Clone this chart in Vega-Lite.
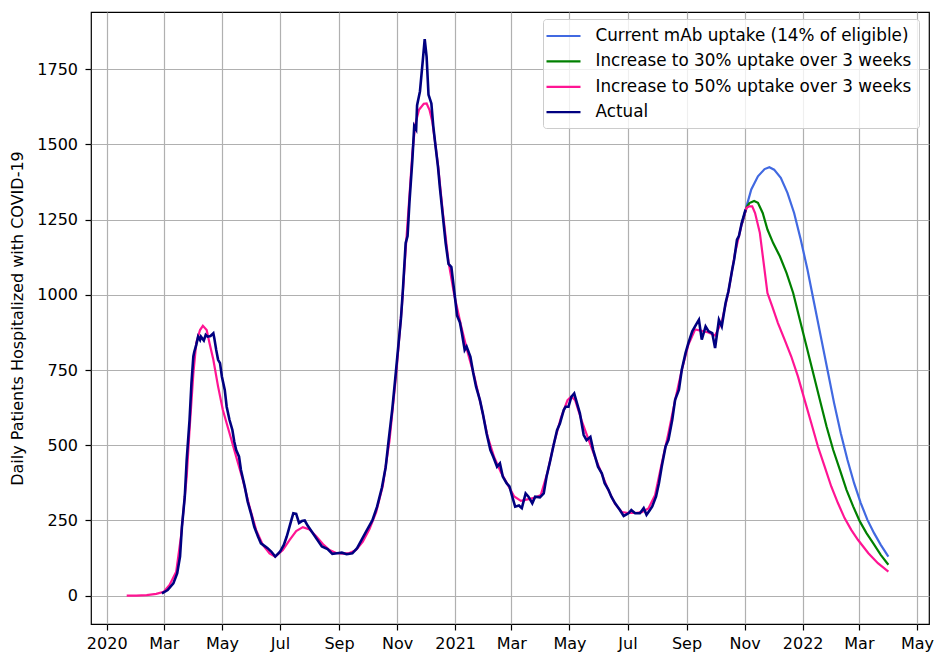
{
  "$schema": "https://vega.github.io/schema/vega-lite/v6.json",
  "autosize": {"type": "none"},
  "width": 838,
  "height": 612,
  "padding": {"left": 91, "top": 12, "right": 8, "bottom": 30},
  "background": "white",
  "config": {
    "view": {"stroke": "black", "strokeWidth": 1.2},
    "font": "DejaVu Sans",
    "axis": {
      "labelFont": "DejaVu Sans", "labelFontSize": 16, "labelColor": "black",
      "titleFont": "DejaVu Sans", "titleFontSize": 16, "titleFontWeight": "normal", "titleColor": "black",
      "tickColor": "black", "tickSize": 6, "tickWidth": 1.2, "labelPadding": 5,
      "grid": true, "gridColor": "#b0b0b0", "gridWidth": 1.2,
      "domain": false, "labelFlush": false, "labelOverlap": false, "labelBound": false
    },
    "legend": {
      "orient": "none", "legendX": 452, "legendY": 7,
      "labelFont": "DejaVu Sans", "labelFontSize": 16.8, "labelColor": "black", "labelLimit": 500,
      "symbolType": "M-2,0H2", "symbolSize": 289, "symbolStrokeWidth": 2.2,
      "symbolOffset": 3.5, "labelOffset": 22,
      "padding": 7, "rowPadding": 6.4,
      "fillColor": "rgba(255,255,255,0.8)", "strokeColor": "#cccccc", "cornerRadius": 3
    }
  },
  "datasets": {
    "actual": [
      {"d":"2020-02-28","v":8},{"d":"2020-03-05","v":19},{"d":"2020-03-11","v":41},{"d":"2020-03-15","v":74},{"d":"2020-03-18","v":130},{"d":"2020-03-20","v":229},{"d":"2020-03-23","v":329},{"d":"2020-03-25","v":451},{"d":"2020-03-28","v":584},{"d":"2020-03-30","v":706},{"d":"2020-04-01","v":795},{"d":"2020-04-02","v":811},{"d":"2020-04-04","v":833},{"d":"2020-04-06","v":861},{"d":"2020-04-08","v":850},{"d":"2020-04-09","v":861},{"d":"2020-04-12","v":848},{"d":"2020-04-14","v":867},{"d":"2020-04-16","v":861},{"d":"2020-04-19","v":863},{"d":"2020-04-22","v":872},{"d":"2020-04-23","v":856},{"d":"2020-04-25","v":817},{"d":"2020-04-27","v":784},{"d":"2020-04-29","v":773},{"d":"2020-05-01","v":728},{"d":"2020-05-04","v":684},{"d":"2020-05-06","v":628},{"d":"2020-05-09","v":584},{"d":"2020-05-12","v":551},{"d":"2020-05-14","v":512},{"d":"2020-05-16","v":484},{"d":"2020-05-19","v":462},{"d":"2020-05-21","v":418},{"d":"2020-05-25","v":362},{"d":"2020-05-28","v":313},{"d":"2020-06-01","v":268},{"d":"2020-06-04","v":229},{"d":"2020-06-08","v":196},{"d":"2020-06-11","v":174},{"d":"2020-06-15","v":165},{"d":"2020-06-18","v":158},{"d":"2020-06-22","v":146},{"d":"2020-06-26","v":130},{"d":"2020-07-01","v":146},{"d":"2020-07-05","v":169},{"d":"2020-07-08","v":196},{"d":"2020-07-10","v":218},{"d":"2020-07-13","v":252},{"d":"2020-07-15","v":274},{"d":"2020-07-18","v":272},{"d":"2020-07-21","v":242},{"d":"2020-07-24","v":248},{"d":"2020-07-27","v":250},{"d":"2020-07-30","v":233},{"d":"2020-08-04","v":210},{"d":"2020-08-09","v":187},{"d":"2020-08-14","v":164},{"d":"2020-08-20","v":155},{"d":"2020-08-25","v":139},{"d":"2020-08-30","v":141},{"d":"2020-09-04","v":143},{"d":"2020-09-09","v":138},{"d":"2020-09-15","v":141},{"d":"2020-09-20","v":158},{"d":"2020-09-25","v":187},{"d":"2020-09-30","v":216},{"d":"2020-10-06","v":250},{"d":"2020-10-11","v":296},{"d":"2020-10-16","v":359},{"d":"2020-10-20","v":427},{"d":"2020-10-23","v":513},{"d":"2020-10-27","v":622},{"d":"2020-10-30","v":720},{"d":"2020-11-02","v":820},{"d":"2020-11-05","v":920},{"d":"2020-11-07","v":1012},{"d":"2020-11-10","v":1172},{"d":"2020-11-12","v":1195},{"d":"2020-11-14","v":1309},{"d":"2020-11-17","v":1447},{"d":"2020-11-19","v":1561},{"d":"2020-11-21","v":1550},{"d":"2020-11-22","v":1630},{"d":"2020-11-25","v":1676},{"d":"2020-11-28","v":1779},{"d":"2020-11-30","v":1850},{"d":"2020-12-02","v":1791},{"d":"2020-12-04","v":1665},{"d":"2020-12-07","v":1636},{"d":"2020-12-09","v":1561},{"d":"2020-12-11","v":1504},{"d":"2020-12-14","v":1424},{"d":"2020-12-16","v":1355},{"d":"2020-12-19","v":1263},{"d":"2020-12-22","v":1172},{"d":"2020-12-25","v":1103},{"d":"2020-12-28","v":1092},{"d":"2020-12-31","v":1012},{"d":"2021-01-03","v":931},{"d":"2021-01-06","v":908},{"d":"2021-01-08","v":874},{"d":"2021-01-11","v":817},{"d":"2021-01-13","v":828},{"d":"2021-01-17","v":794},{"d":"2021-01-20","v":740},{"d":"2021-01-23","v":694},{"d":"2021-01-27","v":650},{"d":"2021-01-30","v":606},{"d":"2021-02-03","v":539},{"d":"2021-02-07","v":484},{"d":"2021-02-10","v":462},{"d":"2021-02-14","v":429},{"d":"2021-02-17","v":440},{"d":"2021-02-20","v":396},{"d":"2021-02-24","v":374},{"d":"2021-02-27","v":363},{"d":"2021-03-02","v":329},{"d":"2021-03-05","v":296},{"d":"2021-03-09","v":300},{"d":"2021-03-12","v":291},{"d":"2021-03-16","v":340},{"d":"2021-03-19","v":329},{"d":"2021-03-23","v":307},{"d":"2021-03-26","v":329},{"d":"2021-03-31","v":327},{"d":"2021-04-04","v":340},{"d":"2021-04-07","v":396},{"d":"2021-04-11","v":451},{"d":"2021-04-14","v":495},{"d":"2021-04-18","v":550},{"d":"2021-04-21","v":572},{"d":"2021-04-25","v":617},{"d":"2021-04-27","v":628},{"d":"2021-04-30","v":628},{"d":"2021-05-03","v":661},{"d":"2021-05-06","v":672},{"d":"2021-05-09","v":639},{"d":"2021-05-12","v":606},{"d":"2021-05-16","v":534},{"d":"2021-05-19","v":517},{"d":"2021-05-23","v":528},{"d":"2021-05-26","v":484},{"d":"2021-05-28","v":462},{"d":"2021-05-31","v":429},{"d":"2021-06-04","v":407},{"d":"2021-06-07","v":374},{"d":"2021-06-11","v":352},{"d":"2021-06-14","v":329},{"d":"2021-06-18","v":307},{"d":"2021-06-23","v":285},{"d":"2021-06-27","v":265},{"d":"2021-07-02","v":274},{"d":"2021-07-05","v":285},{"d":"2021-07-09","v":274},{"d":"2021-07-14","v":274},{"d":"2021-07-18","v":291},{"d":"2021-07-21","v":269},{"d":"2021-07-24","v":282},{"d":"2021-07-27","v":297},{"d":"2021-07-31","v":330},{"d":"2021-08-03","v":374},{"d":"2021-08-06","v":430},{"d":"2021-08-10","v":496},{"d":"2021-08-13","v":518},{"d":"2021-08-17","v":585},{"d":"2021-08-20","v":651},{"d":"2021-08-24","v":685},{"d":"2021-08-27","v":751},{"d":"2021-08-31","v":807},{"d":"2021-09-03","v":840},{"d":"2021-09-07","v":879},{"d":"2021-09-11","v":901},{"d":"2021-09-14","v":917},{"d":"2021-09-17","v":851},{"d":"2021-09-21","v":895},{"d":"2021-09-24","v":879},{"d":"2021-09-28","v":873},{"d":"2021-10-01","v":823},{"d":"2021-10-05","v":917},{"d":"2021-10-08","v":895},{"d":"2021-10-12","v":973},{"d":"2021-10-15","v":1012},{"d":"2021-10-19","v":1084},{"d":"2021-10-21","v":1117},{"d":"2021-10-24","v":1183},{"d":"2021-10-26","v":1195},{"d":"2021-10-29","v":1239},{"d":"2021-11-02","v":1283}
    ],
    "pink": [
      {"d":"2020-01-22","v":0},{"d":"2020-02-01","v":0},{"d":"2020-02-12","v":2},{"d":"2020-02-22","v":6},{"d":"2020-03-01","v":13},{"d":"2020-03-07","v":36},{"d":"2020-03-14","v":80},{"d":"2020-03-19","v":196},{"d":"2020-03-25","v":396},{"d":"2020-03-28","v":551},{"d":"2020-04-01","v":739},{"d":"2020-04-04","v":839},{"d":"2020-04-08","v":883},{"d":"2020-04-11","v":897},{"d":"2020-04-15","v":883},{"d":"2020-04-18","v":839},{"d":"2020-04-22","v":784},{"d":"2020-04-27","v":695},{"d":"2020-05-02","v":617},{"d":"2020-05-09","v":540},{"d":"2020-05-16","v":462},{"d":"2020-05-23","v":385},{"d":"2020-05-30","v":296},{"d":"2020-06-06","v":218},{"d":"2020-06-13","v":169},{"d":"2020-06-20","v":141},{"d":"2020-06-26","v":130},{"d":"2020-07-04","v":152},{"d":"2020-07-11","v":185},{"d":"2020-07-18","v":215},{"d":"2020-07-25","v":228},{"d":"2020-08-01","v":220},{"d":"2020-08-08","v":198},{"d":"2020-08-15","v":172},{"d":"2020-08-22","v":152},{"d":"2020-08-29","v":142},{"d":"2020-09-05","v":140},{"d":"2020-09-12","v":142},{"d":"2020-09-19","v":152},{"d":"2020-09-26","v":180},{"d":"2020-10-03","v":222},{"d":"2020-10-10","v":278},{"d":"2020-10-17","v":365},{"d":"2020-10-24","v":515},{"d":"2020-10-31","v":735},{"d":"2020-11-06","v":960},{"d":"2020-11-10","v":1150},{"d":"2020-11-14","v":1330},{"d":"2020-11-17","v":1470},{"d":"2020-11-20","v":1565},{"d":"2020-11-24","v":1615},{"d":"2020-11-29","v":1635},{"d":"2020-12-02","v":1636},{"d":"2020-12-05","v":1615},{"d":"2020-12-08","v":1575},{"d":"2020-12-11","v":1505},{"d":"2020-12-14","v":1430},{"d":"2020-12-19","v":1275},{"d":"2020-12-25","v":1110},{"d":"2020-12-31","v":1000},{"d":"2021-01-07","v":900},{"d":"2021-01-14","v":810},{"d":"2021-01-21","v":730},{"d":"2021-01-28","v":635},{"d":"2021-02-04","v":530},{"d":"2021-02-11","v":460},{"d":"2021-02-18","v":410},{"d":"2021-02-25","v":370},{"d":"2021-03-04","v":330},{"d":"2021-03-11","v":315},{"d":"2021-03-18","v":320},{"d":"2021-03-25","v":325},{"d":"2021-04-01","v":335},{"d":"2021-04-08","v":410},{"d":"2021-04-15","v":510},{"d":"2021-04-22","v":590},{"d":"2021-04-29","v":650},{"d":"2021-05-03","v":662},{"d":"2021-05-07","v":650},{"d":"2021-05-14","v":580},{"d":"2021-05-21","v":520},{"d":"2021-05-28","v":460},{"d":"2021-06-04","v":405},{"d":"2021-06-11","v":350},{"d":"2021-06-18","v":305},{"d":"2021-06-25","v":278},{"d":"2021-07-02","v":275},{"d":"2021-07-09","v":275},{"d":"2021-07-16","v":278},{"d":"2021-07-23","v":290},{"d":"2021-07-30","v":335},{"d":"2021-08-06","v":440},{"d":"2021-08-13","v":540},{"d":"2021-08-20","v":650},{"d":"2021-08-27","v":750},{"d":"2021-09-03","v":835},{"d":"2021-09-10","v":885},{"d":"2021-09-17","v":880},{"d":"2021-09-24","v":875},{"d":"2021-10-01","v":865},{"d":"2021-10-08","v":910},{"d":"2021-10-15","v":1010},{"d":"2021-10-22","v":1140},{"d":"2021-10-29","v":1235},{"d":"2021-11-03","v":1289},{"d":"2021-11-06","v":1294},{"d":"2021-11-09","v":1294},{"d":"2021-11-12","v":1272},{"d":"2021-11-17","v":1206},{"d":"2021-11-21","v":1106},{"d":"2021-11-25","v":1006},{"d":"2021-11-30","v":962},{"d":"2021-12-06","v":906},{"d":"2021-12-13","v":851},{"d":"2021-12-20","v":795},{"d":"2021-12-27","v":729},{"d":"2022-01-03","v":651},{"d":"2022-01-10","v":574},{"d":"2022-01-17","v":496},{"d":"2022-01-24","v":430},{"d":"2022-01-31","v":363},{"d":"2022-02-07","v":308},{"d":"2022-02-14","v":258},{"d":"2022-02-21","v":219},{"d":"2022-02-28","v":186},{"d":"2022-03-11","v":141},{"d":"2022-03-21","v":108},{"d":"2022-04-01","v":80}
    ],
    "green": [
      {"d":"2021-10-29","v":1235},{"d":"2021-11-03","v":1290},{"d":"2021-11-06","v":1305},{"d":"2021-11-11","v":1312},{"d":"2021-11-15","v":1306},{"d":"2021-11-20","v":1272},{"d":"2021-11-25","v":1217},{"d":"2021-12-01","v":1172},{"d":"2021-12-08","v":1128},{"d":"2021-12-15","v":1073},{"d":"2021-12-22","v":1006},{"d":"2021-12-29","v":917},{"d":"2022-01-05","v":829},{"d":"2022-01-12","v":740},{"d":"2022-01-19","v":651},{"d":"2022-01-26","v":563},{"d":"2022-02-02","v":485},{"d":"2022-02-09","v":419},{"d":"2022-02-16","v":352},{"d":"2022-02-23","v":297},{"d":"2022-03-02","v":247},{"d":"2022-03-09","v":208},{"d":"2022-03-16","v":175},{"d":"2022-03-24","v":136},{"d":"2022-04-01","v":103}
    ],
    "blue": [
      {"d":"2021-10-29","v":1235},{"d":"2021-11-03","v":1294},{"d":"2021-11-08","v":1350},{"d":"2021-11-15","v":1394},{"d":"2021-11-22","v":1418},{"d":"2021-11-27","v":1424},{"d":"2021-12-02","v":1416},{"d":"2021-12-09","v":1389},{"d":"2021-12-16","v":1339},{"d":"2021-12-23","v":1272},{"d":"2021-12-30","v":1183},{"d":"2022-01-06","v":1084},{"d":"2022-01-13","v":973},{"d":"2022-01-20","v":862},{"d":"2022-01-27","v":751},{"d":"2022-02-03","v":640},{"d":"2022-02-10","v":540},{"d":"2022-02-17","v":452},{"d":"2022-02-24","v":374},{"d":"2022-03-03","v":308},{"d":"2022-03-10","v":252},{"d":"2022-03-17","v":208},{"d":"2022-03-24","v":169},{"d":"2022-04-01","v":130}
    ]
  },
  "encoding": {
    "x": {
      "field": "d", "type": "temporal",
      "scale": {"type": "utc", "domain": ["2019-12-15T12:00:00Z", "2022-05-13T16:00:00Z"], "nice": false},
      "axis": {
        "title": null,
        "tickCount": {"interval": "month", "step": 2},
        "labelExpr": "utcFormat(datum.value, '%m') == '01' ? utcFormat(datum.value, '%Y') : utcFormat(datum.value, '%b')"
      }
    },
    "y": {
      "field": "v", "type": "quantitative",
      "scale": {"domain": [-94, 1940], "nice": false, "zero": false},
      "axis": {
        "title": "Daily Patients Hospitalized with COVID-19",
        "values": [0, 250, 500, 750, 1000, 1250, 1500, 1750],
        "format": "d", "labelPadding": 7.5,
        "titleX": -73.5, "titleY": 306, "titleAngle": -90, "titleAlign": "center", "titleBaseline": "middle"
      }
    }
  },
  "layer": [
    {
      "data": {"name": "blue"},
      "mark": {"type": "line", "strokeWidth": 2.2},
      "encoding": {
        "color": {
          "datum": "Current mAb uptake (14% of eligible)",
          "scale": {
            "domain": ["Current mAb uptake (14% of eligible)", "Increase to 30% uptake over 3 weeks", "Increase to 50% uptake over 3 weeks", "Actual"],
            "range": ["#4169e1", "#008000", "#ff1493", "#000080"]
          },
          "legend": {"title": null}
        }
      }
    },
    {
      "data": {"name": "green"},
      "mark": {"type": "line", "strokeWidth": 2.2},
      "encoding": {"color": {"datum": "Increase to 30% uptake over 3 weeks"}}
    },
    {
      "data": {"name": "pink"},
      "mark": {"type": "line", "strokeWidth": 2.2},
      "encoding": {"color": {"datum": "Increase to 50% uptake over 3 weeks"}}
    },
    {
      "data": {"name": "actual"},
      "mark": {"type": "line", "strokeWidth": 2.6},
      "encoding": {"color": {"datum": "Actual"}}
    }
  ]
}
